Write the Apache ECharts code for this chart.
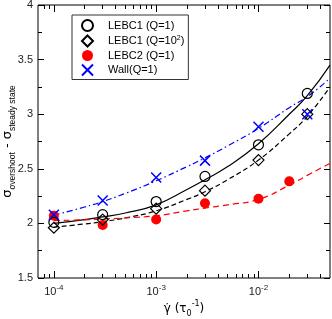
<!DOCTYPE html>
<html>
<head>
<meta charset="utf-8">
<script src="https://cdn.jsdelivr.net/npm/echarts@6/dist/echarts.min.js"></script>
<style>html,body{margin:0;padding:0;background:#fff}#c{width:332px;height:319px}</style>
</head>
<body>
<div id="c"></div>
<script>
// ---- data ----
const xPts = [1e-4, 3e-4, 1e-3, 3e-3, 1e-2, 3e-2];
const lebc1Q1 = [2.01, 2.08, 2.20, 2.43, 2.72, 3.19];
const lebc1Q100 = [1.96, 2.035, 2.135, 2.30, 2.58, 3.00];
const wallQ1 = [2.08, 2.21, 2.42, 2.575, 2.885, 3.00];
const lebc2X = [1e-4, 3e-4, 1e-3, 3e-3, 1e-2, 2e-2];
const lebc2Q1 = [2.07, 1.985, 2.035, 2.185, 2.225, 2.385];

const fitX = [1e-4, 2e-4, 3e-4, 5e-4, 1e-3, 2e-3, 3e-3, 5e-3, 1e-2, 2e-2, 3e-2, 5e-2];
const fitLebc1Q1 = [2.00, 2.035, 2.06, 2.095, 2.17, 2.31, 2.40, 2.52, 2.73, 3.00, 3.17, 3.45];
const fitLebc1Q100 = [1.965, 1.995, 2.015, 2.05, 2.115, 2.22, 2.29, 2.40, 2.58, 2.82, 2.98, 3.25];
const fitWall = [2.075, 2.15, 2.20, 2.275, 2.39, 2.52, 2.60, 2.71, 2.87, 3.06, 3.16, 3.33];
const fitLebc2 = [2.025, 2.033, 2.04, 2.05, 2.07, 2.115, 2.14, 2.17, 2.22, 2.35, 2.44, 2.55];

const xMajorTicks = [1e-4, 1e-3, 1e-2];
const xMinorTicks = [8e-5, 9e-5, 2e-4, 3e-4, 4e-4, 5e-4, 6e-4, 7e-4, 8e-4, 9e-4,
  2e-3, 3e-3, 4e-3, 5e-3, 6e-3, 7e-3, 8e-3, 9e-3, 2e-2, 3e-2, 4e-2];
const yTickLabels = ['1.5', '2', '2.5', '3', '3.5', '4'];

const names = ['LEBC1 (Q=1)', 'LEBC1 (Q=10^2)', 'LEBC2 (Q=1)', 'Wall(Q=1)'];

// ---- chart ----
const FONT = 'Liberation Sans, Arial, sans-serif';
const pair = (xs, ys) => xs.map((x, i) => [x, ys[i]]);
const X_MIN = 7e-5, X_MAX = 0.05, Y_MIN = 1.5, Y_MAX = 4;
const rect = { left: 38, right: 2, top: 5, bottom: 41 };

function xAx(grid, pos, ticks, len, labels) {
  return {
    type: 'log', logBase: 10, gridIndex: grid, position: pos, min: X_MIN, max: X_MAX,
    axisLine: { show: false }, splitLine: { show: false },
    axisTick: { show: true, inside: true, length: len, customValues: ticks, lineStyle: { color: '#000', width: 1 } },
    axisLabel: labels ? {
      show: true, customValues: ticks, margin: 6, fontFamily: FONT, fontSize: 11, color: '#222',
      formatter: v => '10{sup|' + Math.round(Math.log10(v)) + '}',
      rich: { sup: { fontSize: 8, verticalAlign: 'top', lineHeight: 16, fontFamily: FONT, color: '#222' } }
    } : { show: false },
    name: labels ? 'γ̇ ({b|τ}{sub|0}{sup|-1})' : '',
    nameLocation: 'middle', nameGap: 22, nameMoveOverlap: false,
    nameTextStyle: {
      fontFamily: 'DejaVu Sans, sans-serif', fontSize: 12, color: '#000', lineHeight: 18,
      rich: {
        b: { fontFamily: 'DejaVu Sans, sans-serif', fontSize: 12, color: '#000', lineHeight: 18 },
        sub: { fontSize: 8, verticalAlign: 'bottom', lineHeight: 18, color: '#000' },
        sup: { fontSize: 8, verticalAlign: 'top', lineHeight: 18, color: '#000' }
      }
    }
  };
}
function yAx(grid, pos, labels, show) {
  return {
    type: 'value', gridIndex: grid, position: pos, min: Y_MIN, max: Y_MAX, interval: 0.5,
    show: show,
    axisLine: { show: false }, splitLine: { show: false },
    axisTick: { show: true, inside: true, length: 6, lineStyle: { color: '#000' } },
    minorTick: { show: true, splitNumber: 2, length: 4, lineStyle: { color: '#000' } },
    axisLabel: labels ? { show: true, margin: 5, fontFamily: FONT, fontSize: 11, color: '#222',
      formatter: v => yTickLabels[Math.round((v - Y_MIN) / 0.5)] } : { show: false },
    name: labels ? '{s|σ}{sub|overshoot}{s| - σ}{sub|steady state}' : '',
    nameLocation: 'middle', nameGap: 21, nameRotate: 90, nameMoveOverlap: false,
    nameTextStyle: {
      fontFamily: FONT, fontSize: 12, color: '#000',
      rich: {
        s: { fontFamily: 'DejaVu Sans, sans-serif', fontSize: 13, lineHeight: 19, color: '#000' },
        sub: { fontFamily: FONT, fontSize: 8.5, verticalAlign: 'bottom', lineHeight: 19, color: '#000' }
      }
    }
  };
}

const chart = echarts.init(document.getElementById('c'), null, { renderer: 'canvas' });
const lineBase = { type: 'line', xAxisIndex: 0, yAxisIndex: 0, showSymbol: false, symbol: 'none', smooth: 0.5, silent: true, z: 2 };
chart.setOption({
  animation: false,
  backgroundColor: '#fff',
  grid: [
    Object.assign({ show: true, borderColor: '#000', borderWidth: 1, backgroundColor: 'transparent', containLabel: false, outerBoundsMode: 'none' }, rect),
    Object.assign({ show: false, containLabel: false, outerBoundsMode: 'none' }, rect)
  ],
  xAxis: [
    xAx(0, 'bottom', xMajorTicks, 7, true),
    xAx(0, 'top', xMajorTicks, 7, false),
    xAx(1, 'bottom', xMinorTicks, 4, false),
    xAx(1, 'top', xMinorTicks, 4, false)
  ],
  yAxis: [
    yAx(0, 'left', true, true),
    yAx(0, 'right', false, true),
    yAx(1, 'left', false, false)
  ],
  legend: {
    data: names, orient: 'vertical', left: 72, top: 15,
    itemWidth: 11, itemHeight: 11, itemGap: 2.5,
    padding: [4, 4, 3, 9],
    borderColor: '#333', borderWidth: 1, backgroundColor: '#fff',
    selectedMode: false,
    textStyle: { fontFamily: FONT, fontSize: 11, lineHeight: 11, color: '#000', padding: [0, 0, 0, 10],
      rich: { sup: { fontSize: 7, verticalAlign: 'top', lineHeight: 13, fontFamily: FONT, color: '#000' } } },
    formatter: n => n.replace('10^2', '10{sup|2}')
  },
  series: [
    Object.assign({}, lineBase, { name: 'fit1', data: pair(fitX, fitLebc1Q1), lineStyle: { color: '#000', width: 1.2, type: 'solid' } }),
    Object.assign({}, lineBase, { name: 'fit2', data: pair(fitX, fitLebc1Q100), lineStyle: { color: '#000', width: 1.2, type: [5, 3] } }),
    Object.assign({}, lineBase, { name: 'fit3', data: pair(fitX, fitLebc2), lineStyle: { color: '#ff0000', width: 1.2, type: [6, 4] } }),
    Object.assign({}, lineBase, { name: 'fit4', data: pair(fitX, fitWall), lineStyle: { color: '#0000ff', width: 1.2, type: [6, 3, 1.5, 3] } }),
    { type: 'scatter', name: names[2], data: pair(lebc2X, lebc2Q1), symbol: 'circle', symbolSize: 10, z: 3,
      itemStyle: { color: '#ff0000', borderWidth: 0, opacity: 1 } },
    { type: 'scatter', name: names[0], data: pair(xPts, lebc1Q1), symbol: 'circle', symbolSize: 10, z: 4,
      itemStyle: { color: 'rgba(0,0,0,0)', borderColor: '#000', borderWidth: 1.2, opacity: 1 } },
    { type: 'scatter', name: names[1], data: pair(xPts, lebc1Q100), symbol: 'diamond', symbolSize: 11, z: 4,
      itemStyle: { color: 'rgba(0,0,0,0)', borderColor: '#000', borderWidth: 1.2, opacity: 1 } },
    { type: 'scatter', name: names[3], data: pair(xPts, wallQ1), symbol: 'path://M0,0L10,10M10,0L0,10', symbolSize: 10, z: 5,
      itemStyle: { color: 'rgba(0,0,0,0)', borderColor: '#0000ff', borderWidth: 1.5, opacity: 1 } }
  ]
});
</script>
</body>
</html>
